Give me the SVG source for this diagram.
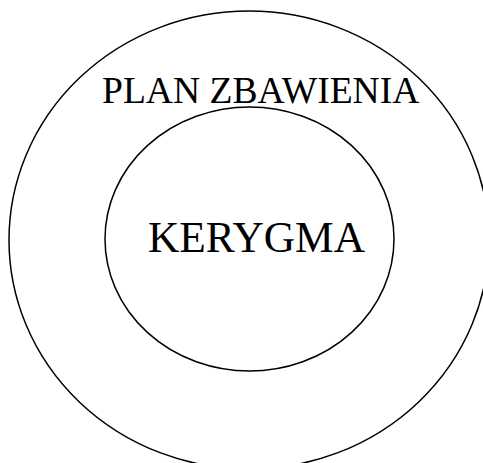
<svg xmlns="http://www.w3.org/2000/svg" width="483" height="463" viewBox="0 0 483 463">
<style>
.c{fill:none;stroke:#000;stroke-width:1.5}
.t{font-family:"Liberation Serif","Times New Roman",serif;fill:#000}
</style>
<rect width="483" height="463" fill="#fff"/>
<g id="plan-zbawienia">
<ellipse class="c" cx="249" cy="240" rx="240" ry="229"/>
<text class="t" x="102" y="103" font-size="37.6">PLAN ZBAWIENIA</text>
</g>
<g id="kerygma">
<ellipse class="c" cx="249.5" cy="239" rx="144.5" ry="132"/>
<text class="t" x="148" y="252" font-size="43.4">KERYGMA</text>
</g>
<g id="connectors"></g>
</svg>
